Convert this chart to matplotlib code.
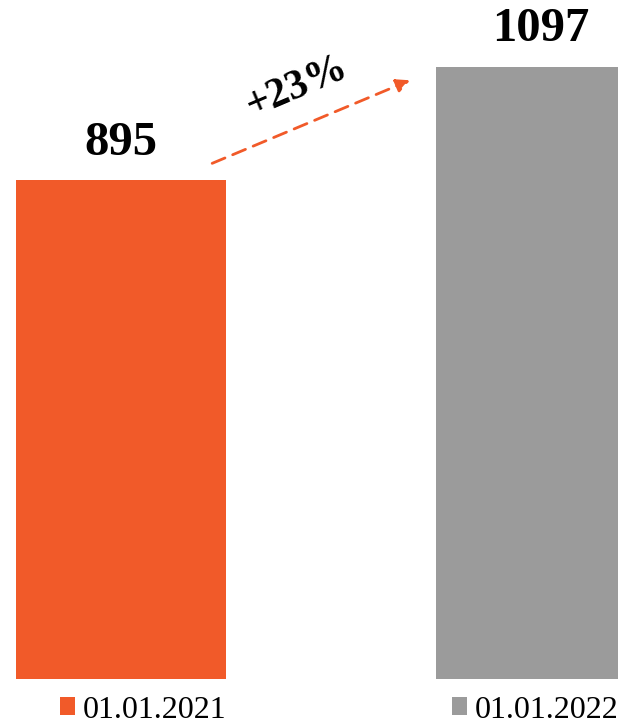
import numpy as np
import matplotlib.pyplot as plt

dates = ['01.01.2021', '01.01.2022']
values = [895, 1097]
colors = ['#F15A29', '#9B9B9B']
growth_label = '+23%'

plt.rcParams['font.family'] = ['Liberation Serif', 'DejaVu Serif']

fig = plt.figure(figsize=(6.18, 7.25), dpi=100)
ax = fig.add_axes([0, 0.0634, 1, 0.9366])

x = np.arange(len(values))
bars = ax.bar(x, values, width=0.5, color=colors)

ax.set_xlim(-0.288, 1.183)
ax.set_ylim(0, 1218)
ax.axis('off')

# value labels over bars
label_y = [961, 1166]
for i in range(len(values)):
    ax.text(x[i], label_y[i], str(values[i]), ha='center', va='center',
            fontsize=35, fontweight='bold')

# growth arrow
ax.annotate('', xy=(0.688, 1074), xytext=(0.217, 925),
            arrowprops=dict(arrowstyle='-|>,head_length=0.8,head_width=0.4',
                            color='#F15A29', lw=2, linestyle=(0, (5, 3)),
                            shrinkA=0, shrinkB=0))
ax.text(0.419, 1062, growth_label, ha='center', va='center', rotation=23,
        fontsize=30, fontweight='bold')

# one legend entry per bar, placed under each bar
leg_x = [60 / 618, 452 / 618]
for i in range(len(dates)):
    leg = fig.legend([bars[i]], [dates[i]], loc='center left',
                     bbox_to_anchor=(leg_x[i], 1 - 710 / 725),
                     frameon=False, fontsize=23, handlelength=0.47, handleheight=0.47,
                     handletextpad=0.25, borderpad=0, borderaxespad=0)

fig.savefig('out.png', dpi=100)
